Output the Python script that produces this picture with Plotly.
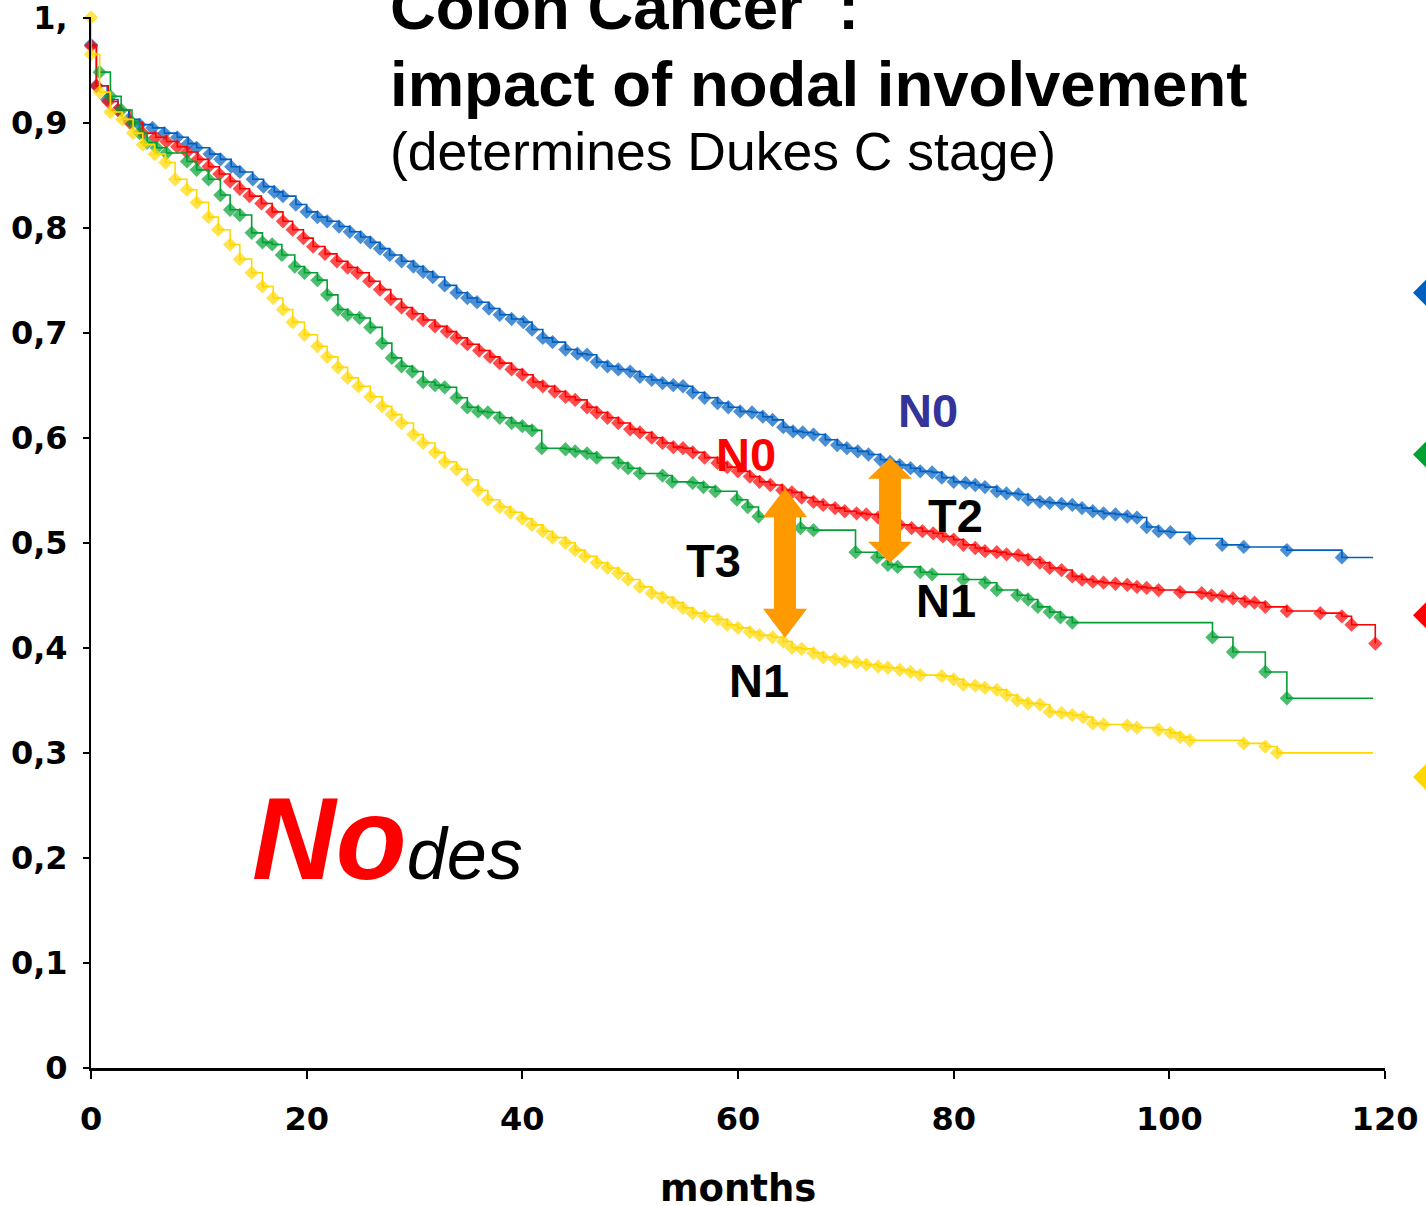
import plotly.graph_objects as go

# ---------------- data ----------------
# Kaplan-Meier survival, (month, survival) at each step
blue_km = [(0, 0.974), (0.5, 0.935), (1.5, 0.922), (2.5, 0.912), (3.5, 0.903), (4.5, 0.898), (5.7, 0.895),
           (6.8, 0.890), (8.0, 0.886), (9.0, 0.880), (9.8, 0.876), (11.0, 0.870), (12.0, 0.865), (13.0, 0.858),
           (13.8, 0.853), (15.0, 0.846), (16.0, 0.839), (17.0, 0.834), (17.8, 0.830), (19.0, 0.822),
           (20.0, 0.815), (21.0, 0.810), (21.9, 0.806), (23.0, 0.801), (24.0, 0.796), (25.0, 0.791),
           (25.9, 0.786), (26.8, 0.780), (27.7, 0.774), (28.8, 0.768), (29.9, 0.763), (30.8, 0.758),
           (31.7, 0.753), (32.8, 0.745), (33.9, 0.738), (34.9, 0.733), (35.8, 0.729), (36.9, 0.723),
           (37.9, 0.717), (39.0, 0.713), (40.1, 0.710), (40.9, 0.703), (41.9, 0.695), (42.8, 0.691),
           (44.0, 0.684), (45.1, 0.680), (46.0, 0.679), (46.9, 0.672), (47.9, 0.668), (48.9, 0.665),
           (50.0, 0.663), (50.9, 0.658), (52.0, 0.655), (53.0, 0.652), (54.0, 0.650), (54.9, 0.649),
           (55.8, 0.643), (56.9, 0.638), (58.1, 0.633), (59.1, 0.629), (60.2, 0.625), (61.3, 0.624),
           (62.3, 0.620), (63.2, 0.617), (64.2, 0.610), (65.1, 0.606), (66.0, 0.605), (67.0, 0.603),
           (68.1, 0.598), (69.2, 0.593), (70.1, 0.590), (71.1, 0.587), (72.1, 0.584), (73.2, 0.579),
           (74.1, 0.577), (75.0, 0.574), (76.0, 0.571), (76.9, 0.568), (78.0, 0.567), (78.9, 0.562),
           (80.0, 0.558), (81.1, 0.557), (82.0, 0.555), (82.9, 0.553), (84.0, 0.549), (84.9, 0.547),
           (86.0, 0.546), (86.9, 0.541), (88.0, 0.539), (88.9, 0.538), (90.0, 0.537), (91.0, 0.536),
           (91.9, 0.533), (92.9, 0.530), (93.9, 0.528), (95.0, 0.527), (96.1, 0.525), (97.0, 0.524),
           (97.9, 0.515), (99.0, 0.511), (100.1, 0.510), (101.9, 0.504), (104.9, 0.498), (106.9, 0.496),
           (110.9, 0.493), (116.0, 0.486), (118.9, 0.486)]

red_km = [(0, 0.973), (0.5, 0.935), (1.6, 0.920), (2.5, 0.912), (3.6, 0.900), (4.8, 0.890), (6.0, 0.886),
          (7.0, 0.882), (8.0, 0.877), (8.9, 0.872), (9.9, 0.865), (10.9, 0.858), (11.9, 0.851), (12.9, 0.844),
          (13.8, 0.837), (14.7, 0.830), (15.8, 0.823), (16.8, 0.815), (17.8, 0.806), (18.7, 0.798),
          (19.7, 0.790), (20.6, 0.782), (21.7, 0.775), (22.8, 0.768), (23.8, 0.762), (24.7, 0.757),
          (25.8, 0.749), (26.8, 0.741), (27.8, 0.732), (28.8, 0.724), (29.8, 0.718), (30.8, 0.712),
          (31.9, 0.706), (33.0, 0.701), (33.9, 0.695), (34.9, 0.689), (36.0, 0.683), (37.0, 0.677),
          (37.9, 0.671), (39.0, 0.665), (40.0, 0.660), (41.0, 0.653), (41.9, 0.649), (43.0, 0.644),
          (44.0, 0.639), (44.9, 0.636), (46.0, 0.629), (46.9, 0.624), (47.9, 0.619), (48.9, 0.614),
          (50.0, 0.608), (50.9, 0.605), (52.0, 0.600), (53.0, 0.595), (54.0, 0.591), (54.9, 0.590),
          (55.8, 0.586), (56.9, 0.581), (58.1, 0.576), (59.0, 0.572), (60.0, 0.568), (61.1, 0.563),
          (62.0, 0.558), (63.0, 0.555), (64.1, 0.550), (65.0, 0.548), (65.9, 0.543), (67.0, 0.539),
          (67.9, 0.536), (69.0, 0.533), (69.9, 0.530), (71.0, 0.528), (71.9, 0.527), (73.0, 0.524),
          (74.1, 0.520), (75.0, 0.517), (76.1, 0.514), (77.1, 0.511), (78.1, 0.509), (79.0, 0.506),
          (80.0, 0.503), (80.9, 0.498), (82.0, 0.495), (82.9, 0.492), (84.0, 0.491), (84.9, 0.489),
          (86.0, 0.488), (86.9, 0.484), (88.0, 0.481), (88.9, 0.476), (90.0, 0.474), (91.0, 0.468),
          (91.9, 0.465), (92.9, 0.463), (93.9, 0.462), (95.0, 0.461), (96.1, 0.460), (97.0, 0.458),
          (97.9, 0.457), (99.0, 0.455), (101.0, 0.453), (103.0, 0.452), (103.9, 0.450), (104.9, 0.449),
          (105.9, 0.447), (107.0, 0.444), (107.9, 0.443), (108.9, 0.439), (110.9, 0.435), (114.0, 0.433),
          (116.0, 0.430), (116.9, 0.422), (119.1, 0.404)]

green_km = [(0.8, 0.948), (1.8, 0.925), (2.8, 0.912), (3.8, 0.900), (4.5, 0.890), (5.2, 0.881), (6.1, 0.876),
            (7.0, 0.871), (8.9, 0.863), (9.8, 0.855), (10.9, 0.846), (12.0, 0.831), (12.9, 0.817),
            (13.8, 0.812), (14.9, 0.795), (15.9, 0.786), (16.8, 0.784), (17.7, 0.774), (18.9, 0.763),
            (19.8, 0.757), (21.0, 0.750), (21.9, 0.736), (22.9, 0.722), (23.8, 0.717), (24.9, 0.714),
            (25.9, 0.705), (27.0, 0.690), (27.9, 0.676), (28.8, 0.668), (29.8, 0.663), (30.8, 0.653),
            (31.9, 0.650), (32.8, 0.648), (33.9, 0.638), (34.9, 0.629), (35.9, 0.625), (36.8, 0.624),
            (37.9, 0.619), (39.0, 0.614), (40.0, 0.611), (40.9, 0.607), (41.8, 0.590), (44.0, 0.589),
            (44.9, 0.587), (46.0, 0.585), (46.9, 0.581), (48.9, 0.576), (49.8, 0.571), (50.9, 0.566),
            (53.0, 0.564), (53.9, 0.558), (55.8, 0.557), (56.8, 0.553), (57.9, 0.549), (59.9, 0.541),
            (60.9, 0.534), (61.9, 0.525), (65.8, 0.514), (67.0, 0.512), (70.9, 0.491), (72.9, 0.486),
            (73.9, 0.479), (74.8, 0.477), (76.9, 0.472), (78.0, 0.470), (80.9, 0.465), (82.9, 0.462),
            (84.0, 0.455), (85.9, 0.450), (86.9, 0.446), (87.8, 0.439), (88.9, 0.434), (89.9, 0.429),
            (91.0, 0.424), (104.0, 0.410), (105.9, 0.396), (108.9, 0.377), (110.9, 0.352), (118.9, 0.352)]

yellow_km = [(0, 1.0), (0, 0.965), (0.8, 0.929), (1.8, 0.910), (2.9, 0.903), (3.9, 0.890), (4.8, 0.879),
             (5.9, 0.870), (6.9, 0.862), (7.8, 0.846), (8.9, 0.836), (9.8, 0.824), (10.9, 0.810),
             (11.8, 0.798), (12.9, 0.784), (13.8, 0.770), (14.9, 0.757), (15.9, 0.744), (16.9, 0.733),
             (17.8, 0.722), (18.7, 0.710), (19.8, 0.698), (21.0, 0.687), (21.9, 0.677), (22.9, 0.667),
             (23.8, 0.657), (24.8, 0.649), (25.9, 0.639), (27.0, 0.630), (27.9, 0.622), (28.8, 0.614),
             (29.9, 0.603), (30.8, 0.595), (31.9, 0.586), (32.8, 0.577), (33.9, 0.570), (34.9, 0.560),
             (35.9, 0.550), (36.8, 0.541), (37.9, 0.534), (38.9, 0.529), (40.0, 0.523), (40.9, 0.517),
             (41.9, 0.511), (42.8, 0.505), (44.0, 0.500), (44.9, 0.493), (45.8, 0.487), (46.9, 0.481),
             (47.9, 0.476), (48.9, 0.471), (49.8, 0.465), (50.9, 0.458), (52.0, 0.452), (53.0, 0.448),
             (54.0, 0.443), (54.9, 0.438), (55.8, 0.433), (56.9, 0.430), (58.1, 0.427), (59.0, 0.422),
             (60.0, 0.419), (61.1, 0.415), (62.0, 0.412), (63.2, 0.410), (64.2, 0.406), (65.0, 0.400),
             (65.9, 0.399), (67.0, 0.395), (67.9, 0.391), (69.0, 0.389), (69.9, 0.387), (71.0, 0.386),
             (71.9, 0.384), (73.0, 0.382), (73.9, 0.381), (75.0, 0.379), (76.0, 0.377), (76.9, 0.374),
             (78.9, 0.373), (80.0, 0.370), (80.9, 0.365), (82.0, 0.364), (82.9, 0.362), (84.0, 0.360),
             (84.9, 0.355), (85.9, 0.350), (86.9, 0.347), (88.0, 0.346), (88.9, 0.339), (90.0, 0.338),
             (91.0, 0.336), (92.0, 0.334), (92.9, 0.328), (93.9, 0.327), (96.1, 0.326), (97.0, 0.324),
             (99.0, 0.322), (100.1, 0.319), (101.0, 0.315), (101.9, 0.312), (106.9, 0.309), (108.9, 0.306),
             (110.0, 0.300), (118.9, 0.300)]

# whether the last point is a censored end (no marker)
censored_end = {"blue": True, "red": False, "green": True, "yellow": True}

y_tickvals = [0, 0.1, 0.2, 0.3, 0.4, 0.5, 0.6, 0.7, 0.8, 0.9, 1.0]
y_ticktext = ["0", "0,1", "0,2", "0,3", "0,4", "0,5", "0,6", "0,7", "0,8", "0,9", "1,"]
x_tickvals = [0, 20, 40, 60, 80, 100, 120]

# legend-like side markers (survival level where they sit)
side_marker_levels = {"blue": 0.738, "green": 0.584, "red": 0.431, "yellow": 0.277}

# ---------------- styling ----------------
COLORS = {"blue": "#0060C0", "red": "#FF0000", "green": "#00A032", "yellow": "#FFD800"}
ORANGE = "#FF9900"
PAGE_W, PAGE_H = 1426, 1206
L, R, T, B = 91, 41, 17, 138  # plot box in page pixels
PW, PH = PAGE_W - L - R, PAGE_H - T - B


def xp(px):
    return (px - L) / PW


def yp(py):
    return (PAGE_H - B - py) / PH


fig = go.Figure()

series = [("blue", blue_km), ("red", red_km), ("green", green_km), ("yellow", yellow_km)]
for name, km in series:
    xs = [p[0] for p in km]
    ys = [p[1] for p in km]
    sizes = [11] * len(km)
    if censored_end[name]:
        sizes[-1] = 0
    fig.add_trace(go.Scatter(
        x=xs, y=ys, mode="lines+markers", line=dict(color=COLORS[name], width=1.6, shape="hv"),
        marker=dict(symbol="diamond", size=sizes, color=COLORS[name], line=dict(width=0)),
        cliponaxis=False, showlegend=False, hoverinfo="skip"))

# side diamonds (partly cut by the page edge), drawn as shapes in paper-x / data-y
MX = PW / 120.0   # px per month
VY = PH / 1.0     # px per survival unit
side_cx = xp(1426)
half_w = 13 / PW
half_h = 13 / VY
for name in ["blue", "green", "red", "yellow"]:
    lv = side_marker_levels[name]
    path = (f"M {side_cx - half_w},{lv} L {side_cx},{lv + half_h} L {side_cx + half_w},{lv} "
            f"L {side_cx},{lv - half_h} Z")
    fig.add_shape(type="path", path=path, xref="paper", yref="y", fillcolor=COLORS[name],
                  line=dict(width=0), layer="above")


# orange double arrows (in data units)
def double_arrow(cx, top, bottom, head_h_px):
    sh = 11 / MX
    hh = 22 / MX
    hv = head_h_px / VY
    pts = [(cx, top), (cx + hh, top - hv), (cx + sh, top - hv), (cx + sh, bottom + hv), (cx + hh, bottom + hv),
           (cx, bottom), (cx - hh, bottom + hv), (cx - sh, bottom + hv), (cx - sh, top - hv), (cx - hh, top - hv)]
    return "M " + " L ".join(f"{a},{b}" for a, b in pts) + " Z"


arrows = [(64.36, 0.552, 0.4095, 29), (74.1, 0.581, 0.481, 21)]
for cx, top, bot, hh in arrows:
    fig.add_shape(type="path", path=double_arrow(cx, top, bot, hh), xref="x", yref="y",
                  fillcolor=ORANGE, line=dict(width=0), layer="above")

# ---------------- text ----------------
ARIAL = "Liberation Sans, Arial, sans-serif"
VERD = "DejaVu Sans, Verdana, sans-serif"


def text_at(text, px, base_py, size, anchor="left", family=ARIAL, color="black", desc=0.212, desc_size=None):
    ds = desc_size if desc_size else size
    fig.add_annotation(text=text, xref="paper", yref="paper", x=xp(px), y=yp(base_py + desc * ds + 1),
                       xanchor=anchor, yanchor="bottom", showarrow=False,
                       font=dict(family=family, size=size, color=color))


text_at("<b>Colon Cancer  :</b>", 388, 30, 63.5)
text_at("<b>impact of nodal involvement</b>", 388, 107, 63.5)
text_at("(determines Dukes C stage)", 388, 171, 53.5)

text_at("<b>N0</b>", 928, 428, 47, anchor="center", color="#333399")
text_at("<b>N0</b>", 746, 472, 47, anchor="center", color="#FF0000")
text_at("<b>T2</b>", 955, 533, 47, anchor="center")
text_at("<b>T3</b>", 713, 578, 47, anchor="center")
text_at("<b>N1</b>", 946, 618, 47, anchor="center")
text_at("<b>N1</b>", 759, 698, 47, anchor="center")

text_at("<span style='color:#FF0000;font-size:116px'><b><i>No</i></b></span><i>des</i>",
        250, 880, 72, desc_size=116)

text_at("<b>months</b>", 738, 1202, 37, anchor="center", family=VERD, desc=0.236)

fig.update_layout(
    width=PAGE_W, height=PAGE_H,
    margin=dict(l=L, r=R, t=T, b=B, autoexpand=False),
    paper_bgcolor="white", plot_bgcolor="white",
    xaxis=dict(range=[0, 120], tickvals=x_tickvals, showgrid=False, zeroline=False, automargin=False,
               showline=True, linecolor="black", linewidth=3, ticks="outside", ticklen=8, tickwidth=2,
               tickcolor="black", ticklabelstandoff=13, ticklabeloverflow="allow",
               tickfont=dict(family=VERD, size=32, color="black", weight="bold")),
    yaxis=dict(range=[0, 1.0005], tickvals=y_tickvals, ticktext=y_ticktext, showgrid=False, zeroline=False,
               automargin=False, ticklabeloverflow="allow",
               showline=True, linecolor="black", linewidth=2, ticks="outside", ticklen=6, tickwidth=2,
               tickcolor="black", ticklabelstandoff=9,
               tickfont=dict(family=VERD, size=32, color="black", weight="bold")),
)

# the page body has a default 8px margin; remove it so the figure sits at the page corner
fig.write_html("out.html", config={"displayModeBar": False},
               post_script="document.body.style.margin='0px';")
